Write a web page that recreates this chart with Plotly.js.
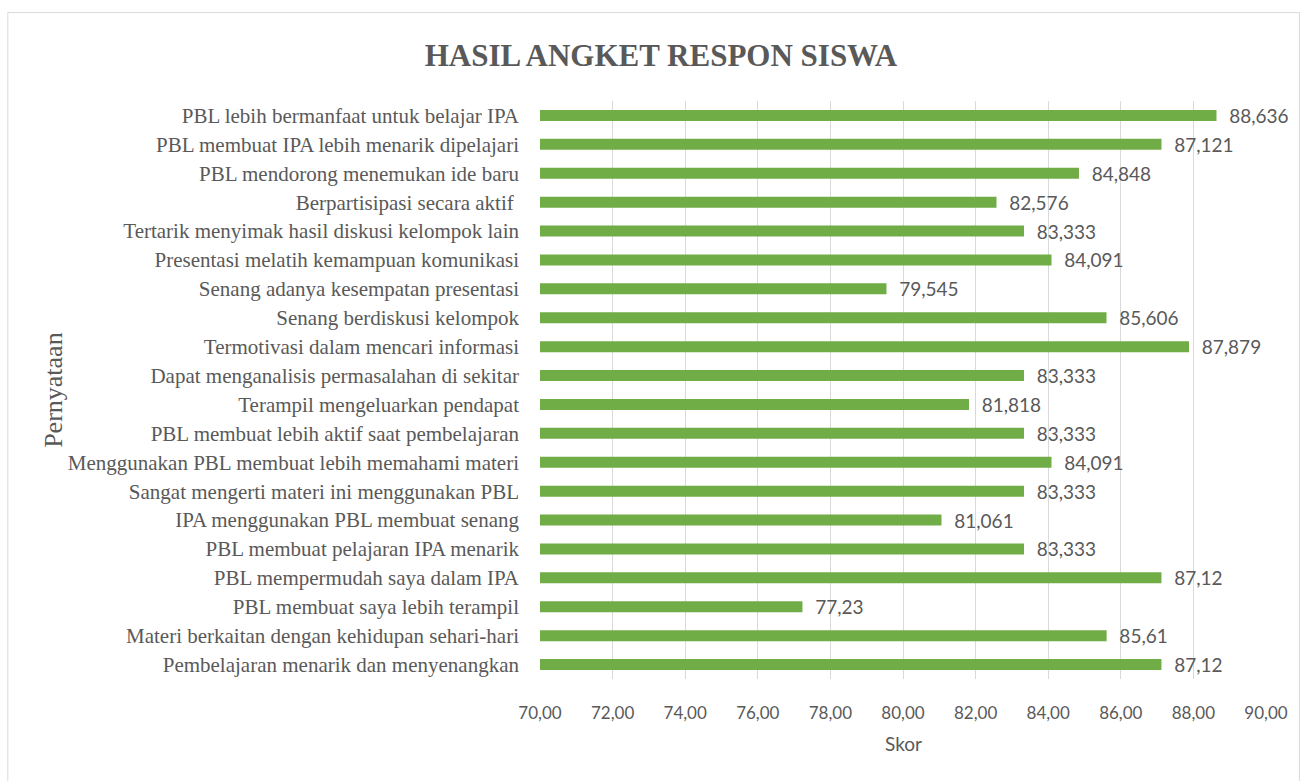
<!DOCTYPE html>
<html>
<head>
<meta charset="utf-8">
<script src="https://cdn.plot.ly/plotly-3.0.1.min.js"></script>
<style>html,body{margin:0;padding:0;background:#fff;}#chart{width:1301px;height:781px;}</style>
</head>
<body>
<div id="chart"></div>
<script>
// Categories, top to bottom
var categories = [
  "PBL lebih bermanfaat untuk belajar IPA",
  "PBL membuat IPA lebih menarik dipelajari",
  "PBL mendorong menemukan ide baru",
  "Berpartisipasi secara aktif ",
  "Tertarik menyimak hasil diskusi kelompok lain",
  "Presentasi melatih kemampuan komunikasi",
  "Senang adanya kesempatan presentasi",
  "Senang berdiskusi kelompok",
  "Termotivasi dalam mencari informasi",
  "Dapat menganalisis permasalahan di sekitar",
  "Terampil mengeluarkan pendapat",
  "PBL membuat lebih aktif saat pembelajaran",
  "Menggunakan PBL membuat lebih memahami materi",
  "Sangat mengerti materi ini menggunakan PBL",
  "IPA menggunakan PBL membuat senang",
  "PBL membuat pelajaran IPA menarik",
  "PBL mempermudah saya dalam IPA",
  "PBL membuat saya lebih terampil",
  "Materi berkaitan dengan kehidupan sehari-hari",
  "Pembelajaran menarik dan menyenangkan"
];
var skor = [88.636, 87.121, 84.848, 82.576, 83.333, 84.091, 79.545, 85.606, 87.879, 83.333,
            81.818, 83.333, 84.091, 83.333, 81.061, 83.333, 87.12, 77.23, 85.61, 87.12];
var xTicks = [70, 72, 74, 76, 78, 80, 82, 84, 86, 88, 90];

var titleText = "HASIL ANGKET RESPON SISWA";
var xTitle = "Skor";
var yTitle = "Pernyataan";

var gray = "#595959";
var serif = "'Liberation Serif', 'Times New Roman', serif";
var sans = "Lato, 'Open Sans', sans-serif";
var axisBase = 70;

var trace = {
  type: "bar",
  orientation: "h",
  y: categories,
  x: skor.map(function(v){ return v - axisBase; }),
  base: axisBase,
  customdata: skor,
  marker: {color: "#70AD47"},
  texttemplate: "\u00a0\u00a0%{customdata:.3~f}",
  textposition: "outside",
  constraintext: "none",
  cliponaxis: false,
  textfont: {family: sans, size: 19, color: gray},
  hoverinfo: "x+y"
};

var layout = {
  width: 1301, height: 781,
  margin: {l: 540, r: 35, t: 101, b: 102},
  paper_bgcolor: "#fff", plot_bgcolor: "#fff",
  separators: ",.",
  showlegend: false,
  bargap: 0.62,
  title: {text: titleText, x: 0.508, xanchor: "center", y: 0.93, yanchor: "middle",
          font: {family: serif, size: 31, color: gray, weight: "bold"}},
  xaxis: {
    range: [70, 90], tickvals: xTicks, tickformat: ".2f",
    showgrid: true, gridcolor: "#d9d9d9", gridwidth: 1,
    zeroline: false, showline: false, ticks: "",
    tickfont: {family: sans, size: 17, color: gray},
    ticklabelstandoff: 22
  },
  yaxis: {
    type: "category", autorange: "reversed",
    showgrid: false, zeroline: false, showline: false, ticks: "",
    tickfont: {family: serif, size: 21, color: gray},
    ticklabelstandoff: 20
  },
  annotations: [
    {text: xTitle, xref: "paper", yref: "paper", x: 0.5, y: -0.112, xanchor: "center", yanchor: "middle",
     showarrow: false, font: {family: sans, size: 19, color: gray}},
    {text: yTitle, xref: "paper", yref: "paper", x: -0.671, y: 0.5, xanchor: "center", yanchor: "middle",
     textangle: -90, showarrow: false, font: {family: serif, size: 26, color: gray}}
  ],
  shapes: [
    {type: "rect", xref: "paper", yref: "paper", x0: -0.733, x1: 1.046, y0: -0.22, y1: 1.153,
     line: {color: "#d9d9d9", width: 1}, fillcolor: "rgba(0,0,0,0)", layer: "below"}
  ]
};

Plotly.newPlot("chart", [trace], layout, {displayModeBar: false, staticPlot: true});
</script>
</body>
</html>
